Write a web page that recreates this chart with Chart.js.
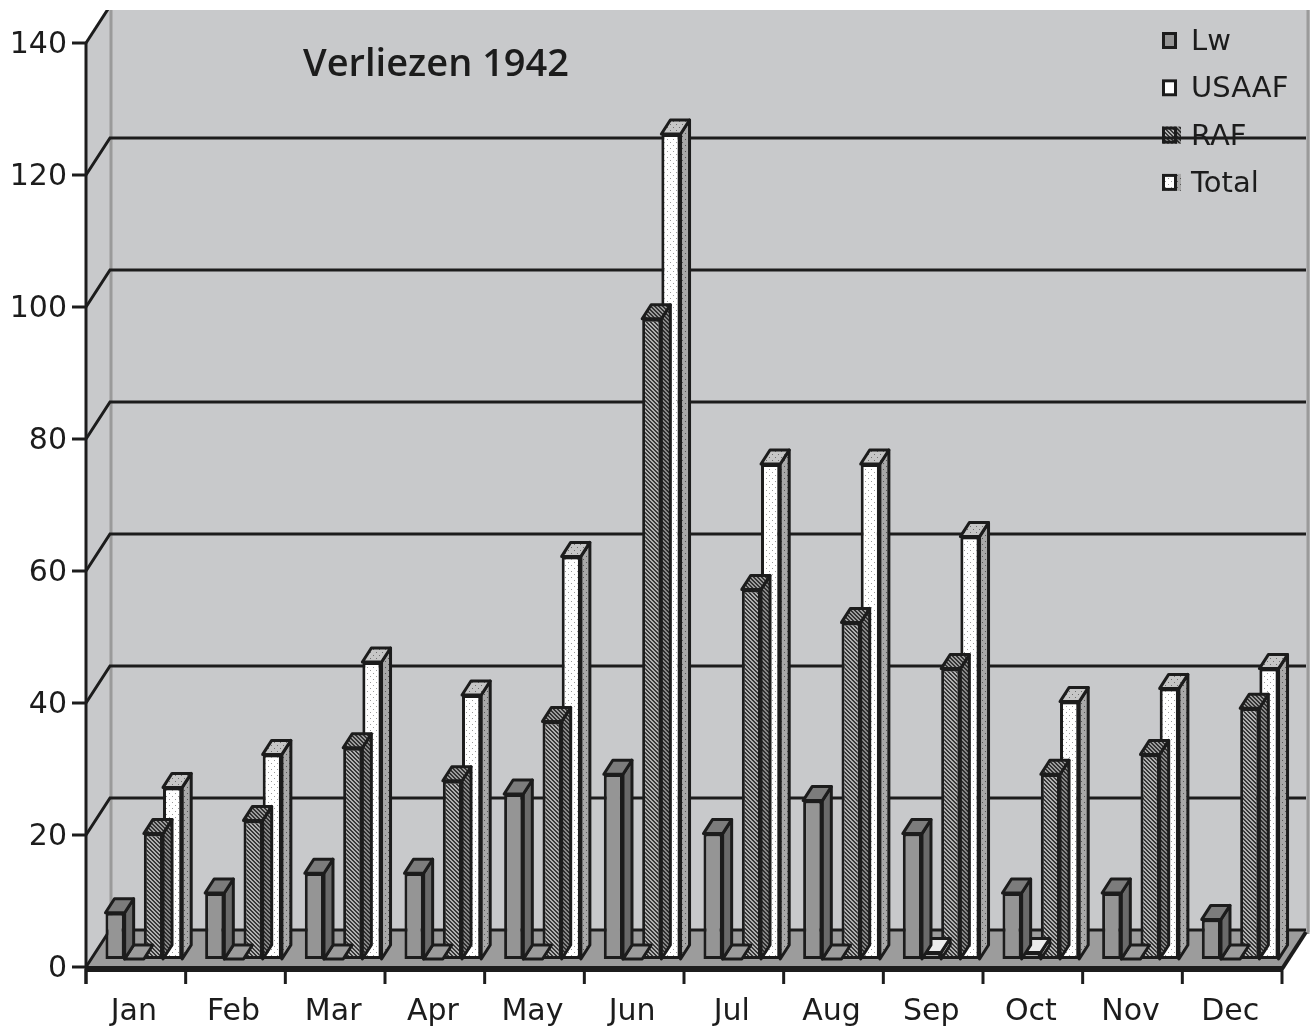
<!DOCTYPE html>
<html>
<head>
<meta charset="utf-8">
<script src="https://cdn.jsdelivr.net/npm/chart.js@4"></script>
<style>
  html, body { margin: 0; padding: 0; background: #ffffff; }
  #c { display: block; }
</style>
</head>
<body>
<canvas id="c" width="1310" height="1028" style="width:1310px;height:1028px"></canvas>
<script>
// ---- data ----
const months = ['Jan','Feb','Mar','Apr','May','Jun','Jul','Aug','Sep','Oct','Nov','Dec'];
const seriesNames = ['Lw','USAAF','RAF','Total'];
const lw     = [7, 10, 13, 13, 25, 28, 19, 24, 19, 10, 10, 6];
const usaaf  = [0, 0, 0, 0, 0, 0, 0, 0, 1, 1, 0, 0];
const raf    = [19, 21, 32, 27, 36, 97, 56, 51, 44, 28, 31, 38];
const total  = [26, 31, 45, 40, 61, 125, 75, 75, 64, 39, 41, 44];
const yMax = 140;
const yStep = 20;
const chartTitle = 'Verliezen 1942';

// ---- patterns ----
function pat(w, h, bg, draw) {
  const c = document.createElement('canvas');
  c.width = w; c.height = h;
  const g = c.getContext('2d');
  g.fillStyle = bg; g.fillRect(0, 0, w, h);
  if (draw) draw(g);
  return document.getElementById('c').getContext('2d').createPattern(c, 'repeat');
}
function hatch(bg, fg) {
  return pat(4, 4, bg, g => {
    g.fillStyle = fg;
    for (let i = 0; i < 4; i++) { g.fillRect(i, i, 1, 1); g.fillRect((i + 1) % 4, i, 1, 1); }
  });
}
function dots(bg, fg) {
  return pat(6, 6, bg, g => {
    g.fillStyle = fg;
    g.fillRect(1, 1, 1, 1);
    g.fillRect(4, 4, 1, 1);
  });
}
const styles = [
  { front: '#959595', side: '#6a6a6a', top: '#7c7c7c' },
  { front: '#ffffff', side: '#d4d4d4', top: '#ececec' },
  { front: hatch('#b0b0b0', '#383838'), side: hatch('#888888', '#2e2e2e'), top: hatch('#9a9a9a', '#333333') },
  { front: dots('#ffffff', '#9a9a9a'), side: dots('#a8a8a8', '#555555'), top: dots('#c6c6c6', '#707070') }
];

// geometry of the pseudo-3D look
const BAR_DX = 9, BAR_DY = -14;     // bar depth
const FRONT_DX = -8, FRONT_DY = 8;  // bar plane -> front plane
const BACK_DX = 24, BACK_DY = -37;  // front plane -> back wall
const INK = '#1c1c1c';
const WALL = '#c8c9cb';
const FLOOR = '#9c9c9c';

function poly(ctx, pts, fill, lw) {
  ctx.beginPath();
  ctx.moveTo(pts[0][0], pts[0][1]);
  for (let i = 1; i < pts.length; i++) ctx.lineTo(pts[i][0], pts[i][1]);
  ctx.closePath();
  if (fill) { ctx.fillStyle = fill; ctx.fill(); }
  if (lw) { ctx.lineWidth = lw; ctx.strokeStyle = INK; ctx.lineJoin = 'round'; ctx.stroke(); }
}

const threeD = {
  id: 'threeD',
  beforeDatasetsDraw(chart) {
    const ctx = chart.ctx;
    const ys = chart.scales.y, xs = chart.scales.x;
    const ca = chart.chartArea;
    const front = v => ys.getPixelForValue(v) + FRONT_DY;
    const fL = ca.left + FRONT_DX, fR = ca.right + FRONT_DX;
    const f0 = front(0), fTop = front(yMax);
    const topClip = 10;
    ctx.save();
    ctx.beginPath(); ctx.rect(0, topClip, chart.width, chart.height - topClip); ctx.clip();
    // back wall
    ctx.fillStyle = WALL;
    ctx.fillRect(fL + BACK_DX, fTop + BACK_DY, chart.width - (fL + BACK_DX), f0 - fTop + 2);
    // left wall
    poly(ctx, [[fL, fTop], [fL + BACK_DX, fTop + BACK_DY], [fL + BACK_DX, f0 + BACK_DY], [fL, f0]], WALL, 0);
    ctx.strokeStyle = '#9a9a9a'; ctx.lineWidth = 3;
    ctx.beginPath(); ctx.moveTo(fL + BACK_DX + 1, fTop + BACK_DY); ctx.lineTo(fL + BACK_DX + 1, f0 + BACK_DY); ctx.stroke();
    ctx.beginPath(); ctx.moveTo(chart.width - 2, fTop + BACK_DY); ctx.lineTo(chart.width - 2, f0 + BACK_DY + 4); ctx.stroke();

    // title
    ctx.fillStyle = INK;
    ctx.font = '600 38px "Open Sans"';
    ctx.textAlign = 'left'; ctx.textBaseline = 'alphabetic';
    ctx.fillText(chartTitle, 303, 76, 270);

    // legend
    const legX = 1162, legY0 = 40, legStep = 47.3;
    chart.data.datasets.forEach((ds, i) => {
      const cy = legY0 + i * legStep;
      const st = styles[i];
      if (i >= 2) poly(ctx, [[legX + 15, cy - 8], [legX + 19, cy - 8], [legX + 19, cy + 9], [legX + 15, cy + 9]], st.side, 0);
      ctx.fillStyle = st.front;
      ctx.fillRect(legX, cy - 8, 15, 17);
      ctx.lineWidth = 3; ctx.strokeStyle = INK;
      ctx.strokeRect(legX + 1.5, cy - 6.5, 12, 14);
      ctx.fillStyle = INK;
      ctx.font = '29px "DejaVu Sans"';
      ctx.textAlign = 'left'; ctx.textBaseline = 'alphabetic';
      ctx.fillText(ds.label, 1191, cy + 10);
    });

    // floor
    const bR = fR + BACK_DX, bL = fL + BACK_DX;
    poly(ctx, [[fL, f0], [fR, f0], [bR, f0 + BACK_DY], [bL, f0 + BACK_DY]], FLOOR, 0);

    // back gridlines + left-wall slants
    ctx.strokeStyle = INK; ctx.lineWidth = 3; ctx.lineCap = 'butt';
    for (let v = 0; v <= yMax; v += yStep) {
      const yf = front(v);
      ctx.beginPath();
      ctx.moveTo(fL, yf); ctx.lineTo(fL + BACK_DX, yf + BACK_DY);
      if (v < yMax) ctx.lineTo(chart.width - 4, yf + BACK_DY);
      ctx.stroke();
    }
    // floor front edge and right edge
    ctx.lineWidth = 6;
    ctx.beginPath(); ctx.moveTo(fL - 1, f0 + 2); ctx.lineTo(fR, f0 + 2); ctx.stroke();
    ctx.lineWidth = 4;
    ctx.beginPath(); ctx.moveTo(fR, f0 + 2); ctx.lineTo(bR, f0 + BACK_DY + 2); ctx.stroke();

    // y axis line and ticks
    ctx.lineWidth = 3;
    ctx.beginPath(); ctx.moveTo(fL, fTop); ctx.lineTo(fL, f0 + 17); ctx.stroke();
    for (let v = 0; v <= yMax; v += yStep) {
      const yf = front(v);
      ctx.beginPath(); ctx.moveTo(fL - 14, yf); ctx.lineTo(fL, yf); ctx.stroke();
    }
    // x ticks at category boundaries
    const n = chart.data.labels.length;
    const cw = (ca.right - ca.left) / n;
    for (let i = 0; i <= n; i++) {
      const xb = xs.getPixelForValue(0) - cw / 2 + i * cw + FRONT_DX;
      ctx.beginPath(); ctx.moveTo(xb, f0 + 2); ctx.lineTo(xb, f0 + 17); ctx.stroke();
    }
    ctx.restore();
  },
  beforeDatasetDraw(chart, args) {
    const ctx = chart.ctx;
    const st = styles[args.index];
    const meta = args.meta;
    ctx.save();
    meta.data.forEach(el => {
      const p = el.getProps(['x', 'y', 'base', 'width'], true);
      const l = p.x - p.width / 2, r = p.x + p.width / 2;
      const top = Math.min(p.y, p.base), bot = Math.max(p.y, p.base);
      if (bot - top > 0.5) {
        poly(ctx, [[r, top], [r + BAR_DX, top + BAR_DY], [r + BAR_DX, bot + BAR_DY], [r, bot]], st.side, 3);
      }
      poly(ctx, [[l, top], [l + BAR_DX, top + BAR_DY], [r + BAR_DX, top + BAR_DY], [r, top]], bot - top > 0.5 ? st.top : FLOOR, 3);
    });
    ctx.restore();
  }
};

const ds = [lw, usaaf, raf, total].map((d, i) => ({
  label: seriesNames[i],
  data: d,
  backgroundColor: styles[i].front,
  borderColor: INK,
  borderWidth: 3,
  borderSkipped: false,
  categoryPercentage: 0.77,
  barPercentage: 1.0
}));

new Chart(document.getElementById('c'), {
  type: 'bar',
  data: { labels: months, datasets: ds },
  options: {
    responsive: false,
    animation: false,
    layout: { padding: { top: 35, right: 20, left: 0, bottom: 0 } },
    plugins: { legend: { display: false }, title: { display: false }, tooltip: { enabled: false } },
    scales: {
      x: {
        grid: { display: false, drawTicks: false }, border: { display: false },
        ticks: { font: { family: 'DejaVu Sans', size: 30 }, color: INK, padding: 35, labelOffset: -10, maxRotation: 0, autoSkip: false },
        afterFit(s) { s.height = 69; s.paddingLeft = 0; s.paddingRight = 0; }
      },
      y: {
        min: 0, max: yMax,
        grid: { display: false, drawTicks: false }, border: { display: false },
        ticks: { stepSize: yStep, font: { family: 'DejaVu Sans', size: 30 }, color: INK, padding: 27, labelOffset: 10 },
        afterFit(s) { s.width = 94; s.paddingTop = 0; s.paddingBottom = 0; }
      }
    }
  },
  plugins: [threeD]
});
</script>
</body>
</html>
